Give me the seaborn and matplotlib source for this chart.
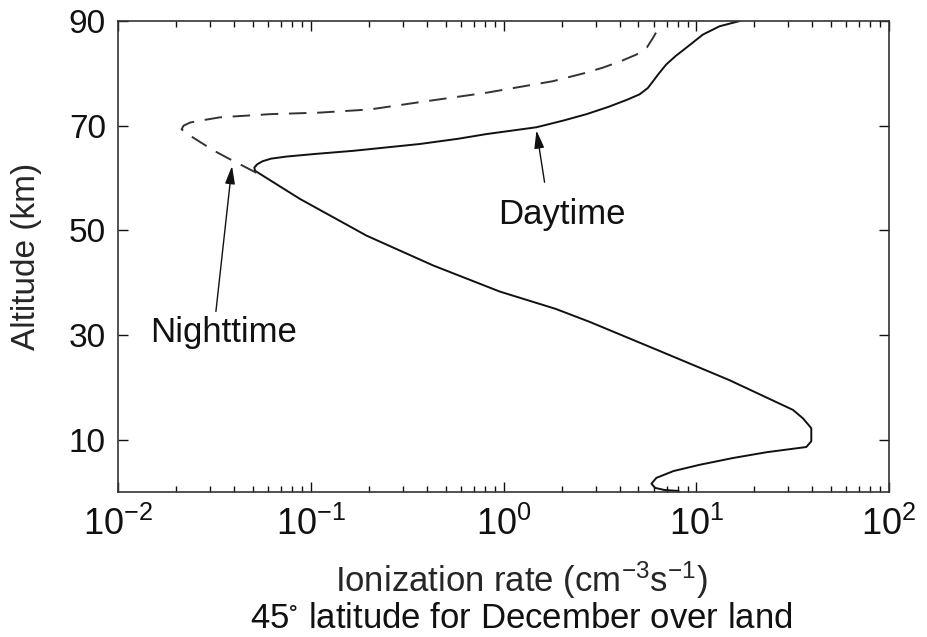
import matplotlib
matplotlib.use('Agg')
import matplotlib.pyplot as plt
import numpy as np
import pandas as pd
import seaborn as sns

# 白天电离率 (km, cm^-3 s^-1)
day_alt = [0.2, 0.4, 0.8, 1.6, 2.7, 4.0, 5.2, 6.5, 7.6, 8.6, 9.7, 12.2, 14.1, 15.7,
           21.4, 26.8, 32.5, 35.0, 38.3, 43.3, 49.0, 56.0, 60.8, 61.4, 62.0, 62.6, 63.2,
           63.7, 64.1, 64.6, 65.2, 66.5, 67.5, 68.4, 69.7, 71.0, 72.2, 73.6, 75.0, 76.0,
           77.2, 78.5, 80.0, 81.7, 83.3, 84.9, 87.4, 89.0, 90.0]
day_rate = [8.1, 6.8, 6.1, 5.85, 6.2, 7.6, 10.4, 15.5, 23.1, 37.2, 39.5, 39.5, 35.7, 31.7,
            14.8, 6.6, 2.8, 1.86, 0.955, 0.43, 0.194, 0.0877, 0.0543, 0.0512, 0.0508, 0.0525,
            0.056, 0.062, 0.0746, 0.105, 0.166, 0.367, 0.58, 0.815, 1.48, 2.05, 2.69, 3.5,
            4.4, 5.08, 5.6, 5.96, 6.4, 6.98, 7.8, 8.87, 10.8, 13.2, 16.8]

# 夜间电离率 (只画与白天分开的部分)
night_alt = [61.0, 62.3, 63.6, 65.0, 66.5, 67.5, 68.4, 69.3, 70.0, 70.6, 71.1, 71.6, 72.2,
             72.5, 73.1, 74.5, 76.3, 78.5, 80.0, 81.1, 82.4, 83.6, 85.0, 86.8, 88.4]
night_rate = [0.052, 0.0445, 0.0379, 0.0322, 0.0276, 0.025, 0.0229, 0.0213, 0.0218, 0.0236,
              0.028, 0.0337, 0.0612, 0.111, 0.202, 0.367, 0.815, 1.80, 2.6, 3.28, 4.1, 4.89,
              5.55, 5.96, 6.31]

y_ticks = [10, 30, 50, 70, 90]
FONTSIZE = 24

sns.set_theme(style='ticks')
plt.rcParams['font.family'] = ['Liberation Sans', 'DejaVu Sans']
plt.rcParams['mathtext.default'] = 'regular'
plt.rcParams['text.color'] = '#111111'

fig, ax = plt.subplots(figsize=(9.28, 6.37), dpi=100)
fig.subplots_adjust(left=0.1275, right=0.958, top=0.967, bottom=0.2276)

day_df = pd.DataFrame({'alt': day_alt, 'rate': day_rate})
night_df = pd.DataFrame({'alt': night_alt, 'rate': night_rate})
sns.lineplot(data=day_df, x='rate', y='alt', sort=False, estimator=None,
             color='#111111', linewidth=1.4, ax=ax)
sns.lineplot(data=night_df, x='rate', y='alt', sort=False, estimator=None,
             color='#333333', linewidth=1.4, linestyle=(0, (9, 5.5)), ax=ax)

ax.set_xscale('log')
ax.set_xlim(1e-2, 1e2)
ax.set_ylim(0, 90)
ax.set_yticks(y_ticks)
ax.minorticks_on()
ax.yaxis.set_minor_locator(matplotlib.ticker.NullLocator())
ax.tick_params(which='both', direction='in', top=True, right=True,
               colors='#111111', width=1.0)
ax.tick_params(which='major', length=7)
ax.tick_params(which='minor', length=4)
ax.tick_params(axis='y', pad=9, labelsize=FONTSIZE)
ax.tick_params(axis='x', pad=11, labelsize=FONTSIZE + 2)
for sp in ax.spines.values():
    sp.set_color('#333333')
    sp.set_linewidth(1.2)

ax.set_ylabel('Altitude (km)', fontsize=FONTSIZE, va='center')
ax.yaxis.set_label_coords(-0.119, 0.5)
ax.set_xlabel('Ionization rate (cm$^{-3}$s$^{-1}$)', fontsize=FONTSIZE + 1, va='center')
ax.xaxis.set_label_coords(0.523, -0.187)
fig.text(0.562, 0.029, '45$^{\\circ}$ latitude for December over land',
         ha='center', va='center', fontsize=FONTSIZE + 1)

# 标注
arrow = dict(arrowstyle='-|>,head_length=0.9,head_width=0.25', color='#111111',
             lw=1.0, shrinkA=0, shrinkB=0)
ax.annotate('', xy=(1.48, 69.1), xytext=(1.63, 59.2), arrowprops=arrow)
ax.text(2.0, 53.0, 'Daytime', ha='center', va='center', fontsize=FONTSIZE + 1)
ax.annotate('', xy=(0.0389, 62.3), xytext=(0.0321, 34.5), arrowprops=arrow)
ax.text(0.0353, 30.5, 'Nighttime', ha='center', va='center', fontsize=FONTSIZE + 1)

plt.savefig('out.png', dpi=100)
plt.close()
